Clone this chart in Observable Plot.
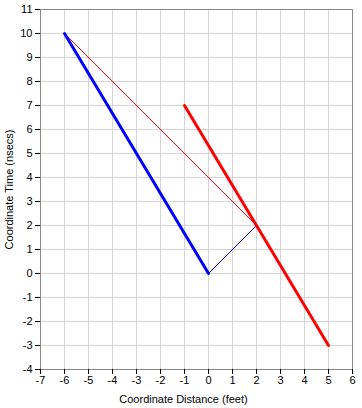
<!DOCTYPE html>
<html>
<head>
<meta charset="utf-8">
<script src="https://cdn.jsdelivr.net/npm/d3@7"></script>
<script src="https://cdn.jsdelivr.net/npm/@observablehq/plot@0.6"></script>
<style>
  html, body { margin: 0; padding: 0; background: #fff; }
  svg { display: block; }
</style>
</head>
<body>
<div id="chart"></div>
<script>
const xTicks = [-7, -6, -5, -4, -3, -2, -1, 0, 1, 2, 3, 4, 5, 6];
const yTicks = [-4, -3, -2, -1, 0, 1, 2, 3, 4, 5, 6, 7, 8, 9, 10, 11];

const blueX = [-6, 0];
const blueY = [10, 0];
const redX = [-1, 5];
const redY = [7, -3];
const thinRedX = [-6, 2];
const thinRedY = [10, 2];
const thinBlueX = [0, 2];
const thinBlueY = [0, 2];

const xLabel = "Coordinate Distance (feet)";
const yLabel = "Coordinate Time (nsecs)";

const chart = Plot.plot({
  width: 362,
  height: 408,
  marginLeft: 40,
  marginRight: 10,
  marginTop: 9,
  marginBottom: 39,
  style: { fontFamily: "'Liberation Sans', Arial, sans-serif", fontSize: "11px", color: "#000", background: "#fff" },
  x: { domain: [-7, 6] },
  y: { domain: [-4, 11] },
  marks: [
    Plot.gridX(xTicks, { stroke: "#d4d4d4", strokeOpacity: 1 }),
    Plot.gridY(yTicks, { stroke: "#d4d4d4", strokeOpacity: 1 }),
    Plot.frame({ stroke: "#8a8a8a" }),
    Plot.axisX(xTicks, { tickSize: 5, tickPadding: 2, tickFormat: d => String(d), label: null }),
    Plot.axisY(yTicks, { tickSize: 5, tickPadding: 3, tickFormat: d => String(d), label: yLabel, labelAnchor: "center", labelArrow: "none", labelOffset: 35 }),
    Plot.text([xLabel], { text: d => d, frameAnchor: "bottom", textAnchor: "middle", lineAnchor: "bottom", dx: -13, dy: 33, fill: "#000" }),
    Plot.line(thinRedX.map((x, i) => ({ x, y: thinRedY[i] })), { x: "x", y: "y", stroke: "#ff0000", strokeWidth: 1 }),
    Plot.line(thinBlueX.map((x, i) => ({ x, y: thinBlueY[i] })), { x: "x", y: "y", stroke: "#0000ff", strokeWidth: 1 }),
    Plot.line(blueX.map((x, i) => ({ x, y: blueY[i] })), { x: "x", y: "y", stroke: "#0000ff", strokeWidth: 3 }),
    Plot.line(redX.map((x, i) => ({ x, y: redY[i] })), { x: "x", y: "y", stroke: "#ff0000", strokeWidth: 3 })
  ]
});
document.getElementById("chart").appendChild(chart);
</script>
</body>
</html>
